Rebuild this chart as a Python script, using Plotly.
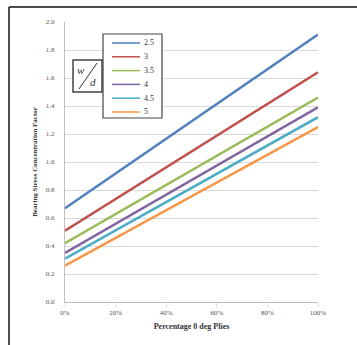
import plotly.graph_objects as go

x_vals = [0.0, 1.0]
series_names = ["2.5", "3", "3.5", "4", "4.5", "5"]
start_vals = [0.67, 0.51, 0.42, 0.35, 0.31, 0.26]
end_vals = [1.91, 1.64, 1.46, 1.39, 1.32, 1.25]
colors = ["#4F81BD", "#C0504D", "#9BBB59", "#8064A2", "#4BACC6", "#F79646"]
x_ticks = [0, 0.2, 0.4, 0.6, 0.8, 1.0]
x_tick_labels = ["0%", "20%", "40%", "60%", "80%", "100%"]
y_ticks = [0.0, 0.2, 0.4, 0.6, 0.8, 1.0, 1.2, 1.4, 1.6, 1.8, 2.0]

SERIF = "Liberation Serif, Times New Roman, serif"
W, H = 357, 345
L, R, T, B = 65, 39, 22, 43
PW, PH = W - L - R, H - T - B


def px(xp):
    return (xp - L) / PW


def py(yp):
    return (H - B - yp) / PH


fig = go.Figure()
for name, s, e, c in zip(series_names, start_vals, end_vals, colors):
    fig.add_trace(go.Scatter(x=x_vals, y=[s, e], mode="lines", name=name,
                             line=dict(color=c, width=2.5)))

fig.update_layout(
    width=W, height=H,
    margin=dict(l=L, r=R, t=T, b=B),
    paper_bgcolor="white", plot_bgcolor="white",
    font=dict(family=SERIF, size=7, color="#555555"),
    showlegend=False,
    xaxis=dict(range=[0, 1], tickvals=x_ticks, ticktext=x_tick_labels,
               showgrid=False, zeroline=False, showline=True,
               linecolor="#bfbfbf", linewidth=1, ticks="outside",
               ticklen=4, tickcolor="#e0e0e0",
               tickfont=dict(family=SERIF, size=7, color="#555555"),
               title=dict(text="<b>Percentage 0 deg Plies</b>",
                          font=dict(family=SERIF, size=8, color="#333333"),
                          standoff=6)),
    yaxis=dict(range=[0, 2], tickvals=y_ticks,
               ticktext=[f"{v:.1f}" for v in y_ticks],
               showgrid=True, gridcolor="#d9d9d9", gridwidth=1,
               zeroline=False, showline=True, linecolor="#bfbfbf",
               linewidth=1, ticks="outside", ticklen=8, tickcolor="rgba(0,0,0,0)",
               tickfont=dict(family=SERIF, size=7, color="#555555"),
               title=dict(text="<b>Bearing Stress Concentration Factor</b>",
                          font=dict(family=SERIF, size=7, color="#333333"),
                          standoff=7)),
)

# outer border of the figure (left and top edges; right/bottom cut off)
fig.add_shape(type="line", xref="paper", yref="paper",
              x0=px(9), x1=px(9), y0=py(345), y1=py(7),
              line=dict(color="#111111", width=1.5), layer="above")
fig.add_shape(type="line", xref="paper", yref="paper",
              x0=px(9), x1=px(357), y0=py(7), y1=py(7),
              line=dict(color="#111111", width=1.5), layer="above")

# legend box (drawn manually to match compact spacing)
fig.add_shape(type="rect", xref="paper", yref="paper",
              x0=px(103), x1=px(162), y0=py(118), y1=py(34),
              line=dict(color="#444444", width=1.2), fillcolor="white",
              layer="above")
for i, (name, c) in enumerate(zip(series_names, colors)):
    yy = 43 + i * 13.8
    fig.add_shape(type="line", xref="paper", yref="paper",
                  x0=px(112), x1=px(140), y0=py(yy), y1=py(yy),
                  line=dict(color=c, width=1.5), layer="above")
    fig.add_annotation(xref="paper", yref="paper", x=px(142), y=py(yy),
                       xanchor="left", yanchor="middle", text=name,
                       showarrow=False,
                       font=dict(family=SERIF, size=8, color="#333333"))

# w/d label box
fig.add_shape(type="rect", xref="paper", yref="paper",
              x0=px(73), x1=px(102), y0=py(92), y1=py(60),
              line=dict(color="#444444", width=1.5), fillcolor="white",
              layer="above")
fig.add_shape(type="line", xref="paper", yref="paper",
              x0=px(97), x1=px(79), y0=py(63), y1=py(89),
              line=dict(color="#333333", width=1), layer="above")
fig.add_annotation(xref="paper", yref="paper", x=px(81), y=py(70),
                   xanchor="center", yanchor="middle", text="<i>w</i>",
                   showarrow=False,
                   font=dict(family=SERIF, size=11, color="#333333"))
fig.add_annotation(xref="paper", yref="paper", x=px(93), y=py(82),
                   xanchor="center", yanchor="middle", text="<i>d</i>",
                   showarrow=False,
                   font=dict(family=SERIF, size=11, color="#333333"))

fig.write_html("out.html", config={"displayModeBar": False},
               post_script="document.body.style.margin='0';document.body.style.padding='0';"
                           "document.documentElement.style.overflow='hidden';")
